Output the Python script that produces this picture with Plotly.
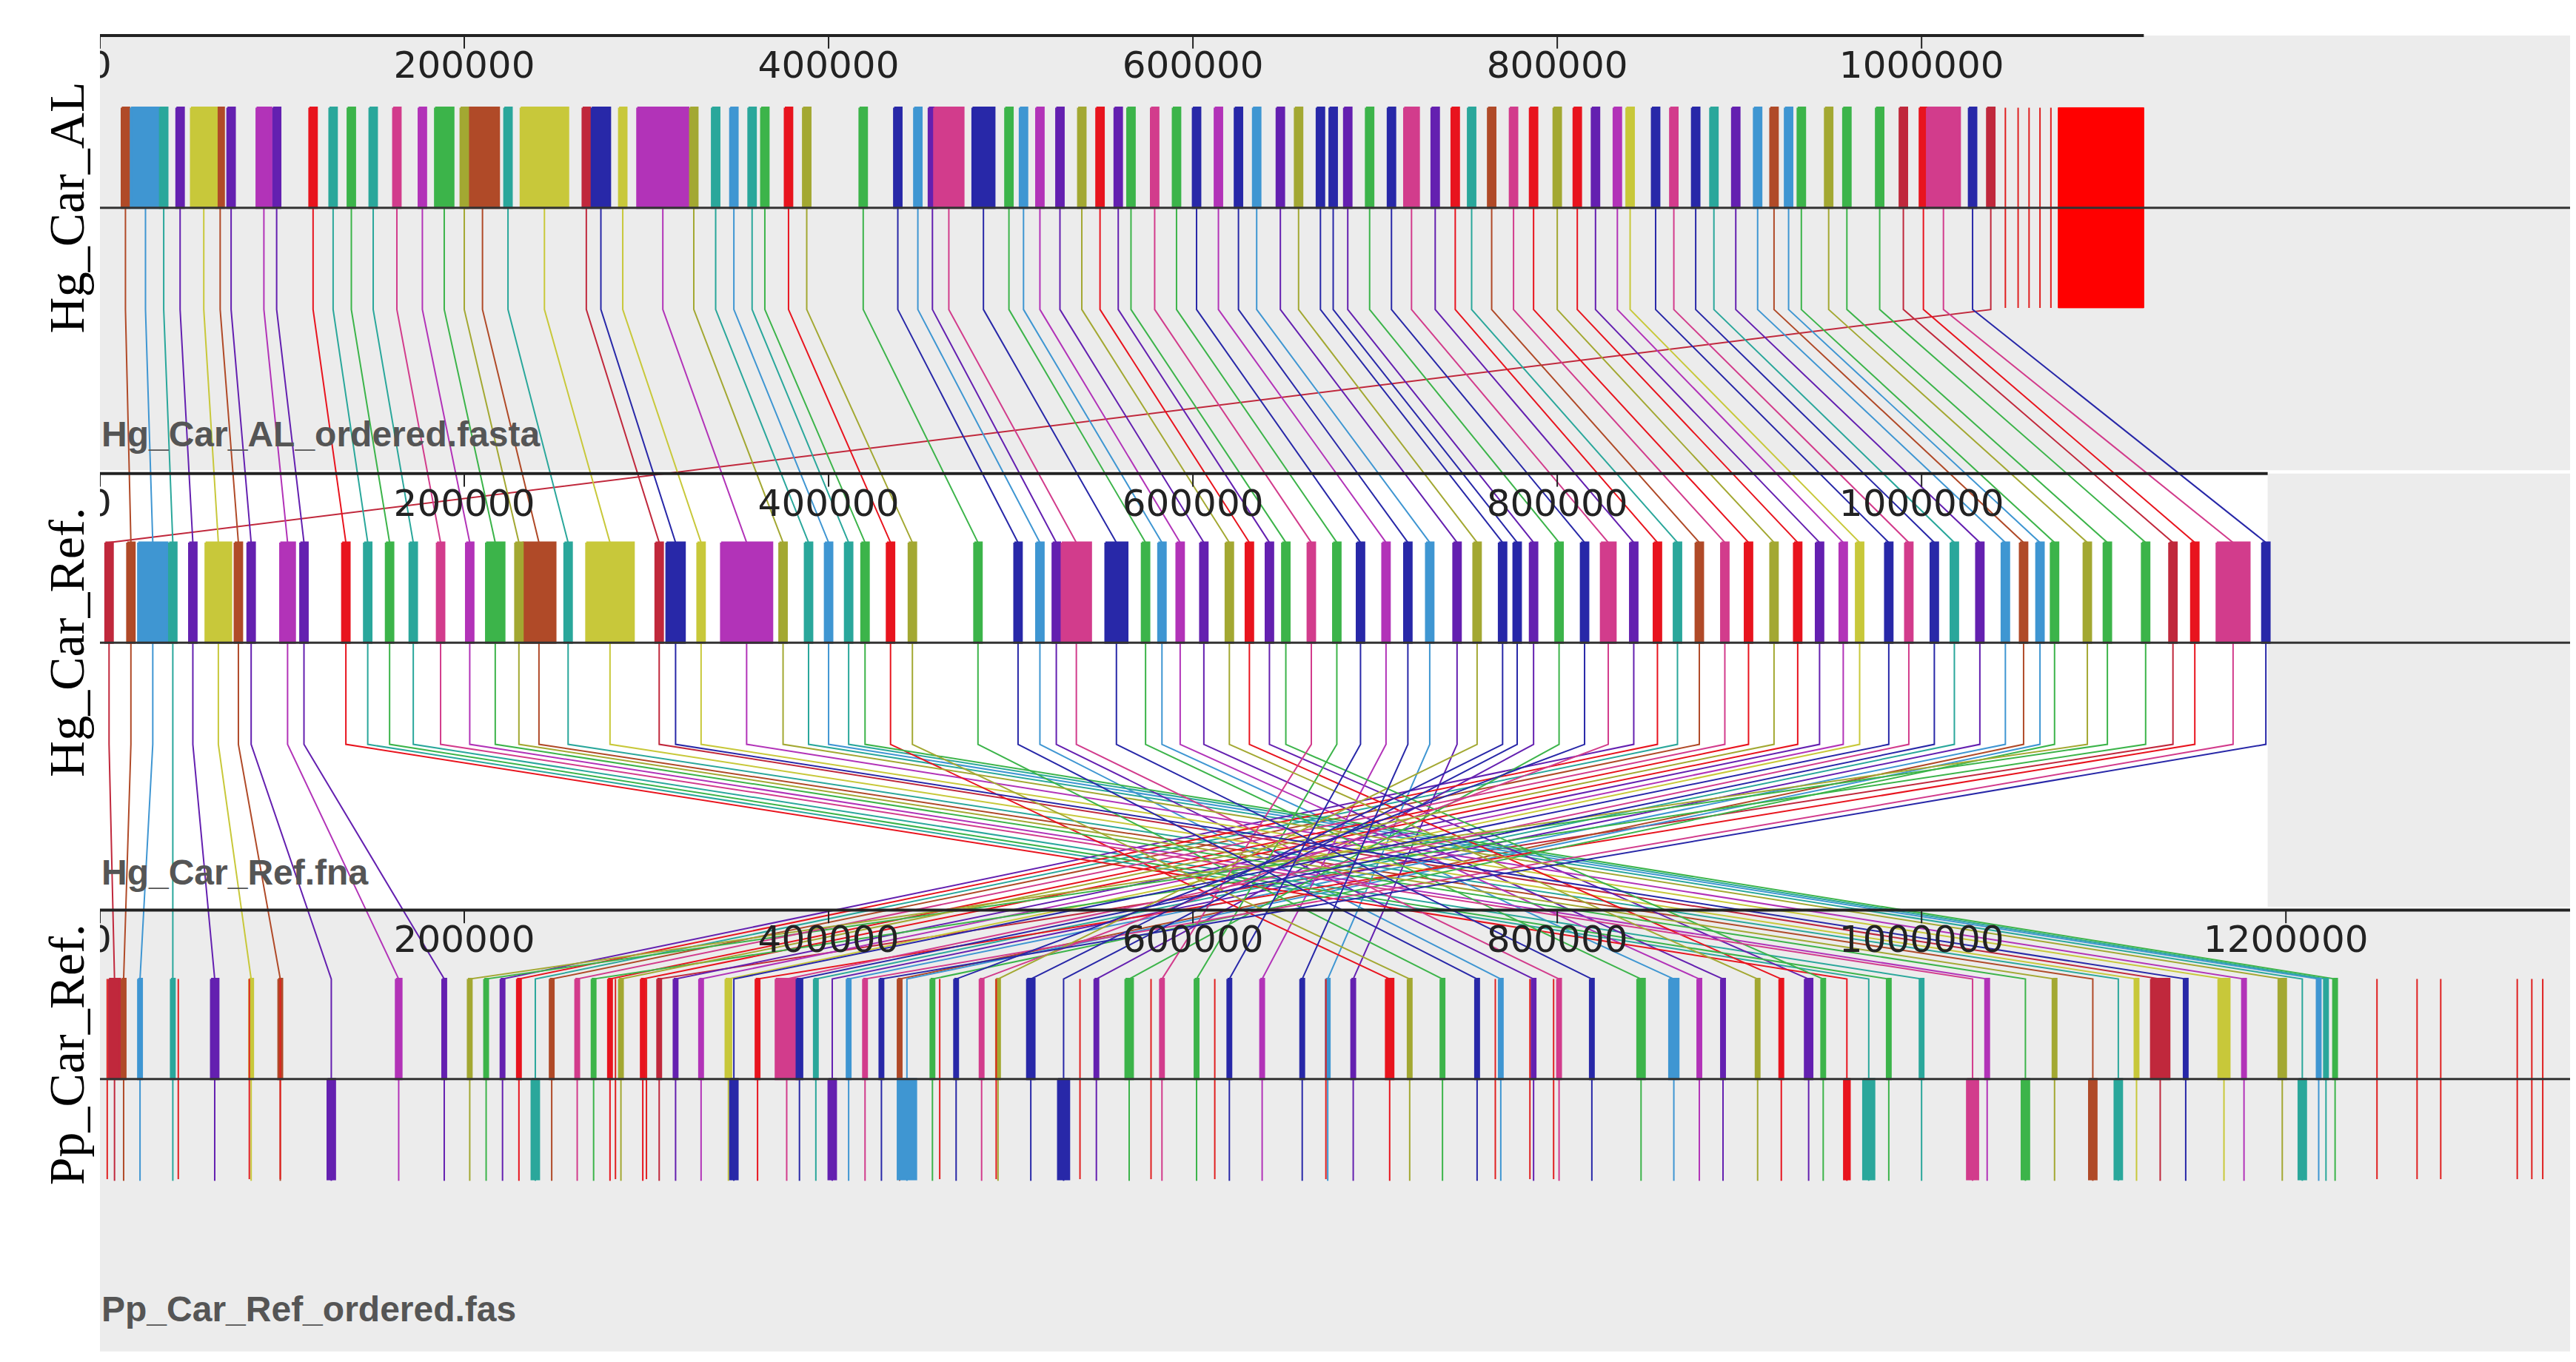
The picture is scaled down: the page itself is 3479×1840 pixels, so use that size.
import plotly.graph_objects as go

# genome names and lengths (kbp)
genomes = ["Hg_Car_AL", "Hg_Car_Ref.", "Pp_Car_Ref."]
files = ["Hg_Car_AL_ordered.fasta", "Hg_Car_Ref.fna", "Pp_Car_Ref_ordered.fas"]
g_len = [1122, 1190, 1356]
tick_vals = [[0, 200, 400, 600, 800, 1000],
             [0, 200, 400, 600, 800, 1000],
             [0, 200, 400, 600, 800, 1000, 1200]]

# LCB positions (kbp) in each genome
g2 = [5, 17, 29, 40, 51, 65, 76, 83, 103, 112, 135, 147, 159, 172, 187, 203, 217, 230, 241, 257,
      280, 307, 316, 330, 355, 375, 389, 400, 411, 420, 434, 446, 482, 504, 516, 525, 536, 558, 574, 583,
      593, 606, 620, 631, 642, 651, 665, 679, 692, 706, 718, 730, 745, 756, 770, 778, 787, 801, 815, 828,
      842, 855, 866, 878, 892, 905, 919, 932, 944, 957, 966, 982, 993, 1007, 1018, 1032, 1046, 1056, 1065, 1073,
      1091, 1102, 1123, 1138, 1150, 1171, 1189]
g1 = [1038, 14, 25, 35, 44, 57, 66, 72, 90, 97, 117, 128, 138, 150, 163, 177, 189, 200, 210, 224,
      244, 267, 275, 287, 309, 326, 338, 348, 358, 365, 378, 388, 419, 438, 449, 457, 466, 485, 499, 507,
      516, 527, 539, 549, 559, 566, 579, 591, 602, 614, 625, 635, 648, 658, 670, 677, 685, 697, 709, 720,
      733, 744, 753, 764, 776, 787, 800, 811, 821, 833, 840, 854, 864, 876, 886, 898, 910, 919, 927, 934,
      949, 959, 977, 990, 1001, 1012, 1028]
# negative = reverse strand
g3 = [8, 13, 22, 40, 63, 83, 99, -127, 164, 189,
      -959, -971, 982, 1000, -1028, 1036, -1057, 1073, -1094, -1108, 1118, 1131, 1145, 1166, 1177, 1198, -1209, 1218, 1222, 1227,
      708, 719, 737, 756, 769, 787, 801, 819, 846, 864, 878, 891, 910, 923, 938, 946, 583, 602, 620, 638,
      660, 674, 688, 493, 511, -529, 547, 565, 470, 484,
      221, 230, -239, 248, 262, 280, 286, 298, 316, 330, 345, -348, 377, 384, 393, -402, 411, 439, -443, 457,
      203, 212, 271, 307, 361, 420, 429]
width = [4, 4, 16, 4, 4, 14, 4, 4, 8, 4, 4, 4, 4, 4, 4, 4, 10, 4, 18, 4,
         26, 4, 10, 4, 28, 4, 4, 4, 4, 4, 4, 4, 4, 4, 4, 4, 16, 12, 4, 4,
         4, 4, 4, 4, 4, 4, 4, 4, 4, 4, 4, 4, 4, 4, 4, 4, 4, 4, 4, 8,
         4, 4, 4, 4, 4, 4, 4, 4, 4, 4, 4, 4, 4, 4, 4, 4, 4, 4, 4, 4,
         4, 4, 4, 4, 4, 18, 4]
width3 = [6, 2, 2, 2, 4, 2, 2, 4, 3, 2,
          3, 6, 2, 2, 6, 2, 4, 2, 4, 4, 2, 10, 2, 6, 2, 4, 4, 2, 2, 2,
          4, 2, 2, 2, 2, 2, 2, 2, 4, 5, 2, 2, 2, 2, 4, 2, 2, 2, 2, 2,
          2, 2, 2, 2, 4, 6, 2, 4, 2, 2,
          2, 2, 4, 2, 2, 2, 2, 2, 2, 2, 3, 4, 12, 3, 2, 4, 2, 2, 10, 2,
          2, 2, 2, 2, 2, 2, 2]
colour = ["darkred", "brown", "lightblue", "teal", "purple", "yellow", "brown", "purple", "magenta", "purple",
          "red", "teal", "green", "teal", "pink", "magenta", "green", "olive", "brown", "teal",
          "yellow", "darkred", "navy", "yellow", "magenta", "olive", "teal", "lightblue", "teal", "green",
          "red", "olive", "green", "navy", "lightblue", "purple", "pink", "navy", "green", "lightblue",
          "magenta", "purple", "olive", "red", "purple", "green", "pink", "green", "navy", "magenta",
          "navy", "lightblue", "purple", "olive", "navy", "navy", "purple", "green", "navy", "pink",
          "purple", "red", "teal", "brown", "pink", "red", "olive", "red", "purple", "magenta",
          "yellow", "navy", "pink", "navy", "teal", "purple", "lightblue", "brown", "lightblue", "green",
          "olive", "green", "green", "darkred", "red", "pink", "navy"]

# unaligned (red) segments
extra1 = [1046, 1053, 1059, 1065, 1071]
solid1 = [1075, 1122]
extra3 = [4, 43, 82, 99, 283, 300, 461, 492, 538, 577, 612, 673, 766, 785, 798,
          1250, 1272, 1285, 1327, 1335, 1341]

palette = {"darkred": "#c0283c", "brown": "#b04a28", "lightblue": "#3f96d2", "teal": "#2aa79b",
           "purple": "#6420b0", "yellow": "#c8c83a", "magenta": "#b233b8", "red": "#e8141e",
           "green": "#3cb44a", "pink": "#d23c8c", "olive": "#a3a832", "navy": "#2828a8",
           "orange": "#c87828"}

ruler_y = [18, 285, 551]
center_y = [123, 388, 654]
half = 61

fig = go.Figure()

# panel backgrounds
fig.add_shape(type="rect", x0=0, x1=1356, y0=18, y1=283, fillcolor="#ececec", line_width=0, layer="below")
fig.add_shape(type="rect", x0=0, x1=g_len[1], y0=285, y1=549, fillcolor="white", line_width=0, layer="below")
fig.add_shape(type="rect", x0=g_len[1], x1=1356, y0=285, y1=549, fillcolor="#ececec", line_width=0, layer="below")
fig.add_shape(type="rect", x0=0, x1=1356, y0=551, y1=820, fillcolor="#ececec", line_width=0, layer="below")

# connecting lines, one trace per colour
for cname, col in palette.items():
    xs, ys = [], []
    for i in range(len(g2)):
        if colour[i] != cname:
            continue
        pos = [g1[i], g2[i], abs(g3[i])]
        for t in range(3):
            xs += [pos[t], pos[t]]
            ys += [center_y[t] - half, center_y[t] + half + 1]
        xs.append(None)
        ys.append(None)
    fig.add_trace(go.Scatter(x=xs, y=ys, mode="lines", line=dict(color=col, width=2),
                             hoverinfo="skip", showlegend=False))

# blocks
for cname, col in palette.items():
    xs, ys = [], []
    for i in range(len(g2)):
        if colour[i] != cname:
            continue
        for t, p in enumerate([g1[i], g2[i], g3[i]]):
            w = width[i] if t < 2 else width3[i]
            x0 = abs(p) - w / 2
            x1 = abs(p) + w / 2
            if p >= 0:
                y0, y1 = center_y[t] - half, center_y[t]
            else:
                y0, y1 = center_y[t], center_y[t] + half
            xs += [x0, x1, x1, x0, x0, None]
            ys += [y0, y0, y1, y1, y0, None]
    fig.add_trace(go.Scatter(x=xs, y=ys, mode="lines", fill="toself", fillcolor=col,
                             line=dict(color=col, width=3), hoverinfo="skip", showlegend=False))

# unaligned red regions
xs, ys = [], []
for p in extra1:
    xs += [p, p, None]
    ys += [center_y[0] - half, center_y[0] + half, None]
for p in extra3:
    xs += [p, p, None]
    ys += [center_y[2] - half, center_y[2] + half, None]
fig.add_trace(go.Scatter(x=xs, y=ys, mode="lines", line=dict(color="#e02020", width=2),
                         hoverinfo="skip", showlegend=False))
fig.add_trace(go.Scatter(x=[solid1[0], solid1[1], solid1[1], solid1[0], solid1[0]],
                         y=[center_y[0] - half] * 2 + [center_y[0] + half] * 2 + [center_y[0] - half],
                         mode="lines", fill="toself", fillcolor="#ff0000", line=dict(color="#ff0000", width=1),
                         hoverinfo="skip", showlegend=False))

# rulers, center lines, ticks
for t in range(3):
    fig.add_trace(go.Scatter(x=[0, g_len[t]], y=[ruler_y[t], ruler_y[t]], mode="lines",
                             line=dict(color="#222", width=4), hoverinfo="skip", showlegend=False))
    fig.add_trace(go.Scatter(x=[0, 1356], y=[center_y[t], center_y[t]], mode="lines",
                             line=dict(color="#333", width=3), hoverinfo="skip", showlegend=False))
    tx, ty = [], []
    for v in tick_vals[t]:
        tx += [v, v, None]
        ty += [ruler_y[t], ruler_y[t] + 8, None]
    fig.add_trace(go.Scatter(x=tx, y=ty, mode="lines", line=dict(color="#222", width=2),
                             hoverinfo="skip", showlegend=False))
    fig.add_trace(go.Scatter(x=tick_vals[t], y=[ruler_y[t] + 20] * len(tick_vals[t]), mode="text",
                             text=[str(v * 1000) for v in tick_vals[t]], cliponaxis=True,
                             textfont=dict(family="DejaVu Sans", size=50, color="#222"),
                             hoverinfo="skip", showlegend=False))
    fig.add_annotation(x=0, y=ruler_y[t] + 256, text="<b>" + files[t] + "</b>", showarrow=False,
                       xanchor="left", yanchor="bottom", font=dict(family="Liberation Sans", size=48, color="#555"))
    fig.add_annotation(x=0.012, xref="paper", y=center_y[t] - (0 if t < 2 else 15), text=genomes[t],
                       textangle=-90, showarrow=False,
                       font=dict(family="Liberation Serif", size=68, color="black"))

fig.update_xaxes(range=[0, 1356], domain=[0.0365, 0.9954], visible=False)
fig.update_yaxes(range=[830, 0], domain=[0, 1], visible=False)
fig.update_layout(width=3479, height=1840, margin=dict(l=0, r=0, t=0, b=0),
                  plot_bgcolor="white", paper_bgcolor="white")
fig.write_html("out.html")
